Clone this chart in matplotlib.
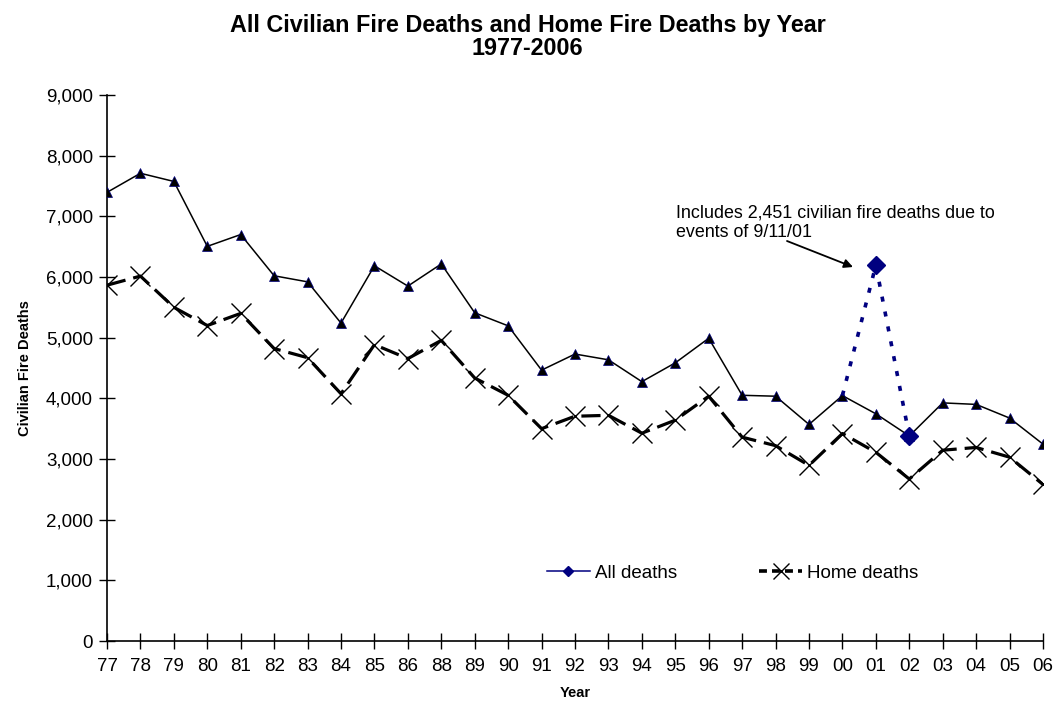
import matplotlib
matplotlib.use("Agg")
import matplotlib.pyplot as plt
from matplotlib.lines import Line2D

plt.rcParams['font.family'] = ['Liberation Sans', 'DejaVu Sans']

years = ["77", "78", "79", "80", "81", "82", "83", "84", "85", "86", "88", "89", "90",
         "91", "92", "93", "94", "95", "96", "97", "98", "99", "00", "01", "02", "03",
         "04", "05", "06"]
all_deaths = [7395, 7710, 7575, 6505, 6700, 6020, 5920, 5240, 6185, 5850, 6215, 5410,
              5195, 4465, 4730, 4635, 4275, 4585, 4990, 4050, 4035, 3570, 4045, 3745,
              3380, 3925, 3900, 3675, 3245]
home_deaths = [5865, 6015, 5500, 5200, 5400, 4820, 4670, 4075, 4885, 4655, 4955, 4335,
               4050, 3500, 3705, 3720, 3425, 3640, 4035, 3360, 3220, 2895, 3420, 3110,
               2670, 3145, 3190, 3030, 2580]
sept11_years = ["00", "01", "02"]
sept11_all = [4045, 6196, 3380]

W, H = 1055, 708
fig = plt.figure(figsize=(W / 100, H / 100), dpi=100)
ax = fig.add_axes([107/W, 1 - 641/H, (1043-107)/W, (641-95)/H])

x = list(range(len(years)))
ax.plot(x, home_deaths, color='black', lw=2.3, ls=(0, (6, 2.5)), marker='x',
        markersize=14, markeredgewidth=1.0, zorder=2)
ax.plot(x, all_deaths, color='black', lw=1.1, marker='^', markersize=7.5,
        markerfacecolor='black', markeredgecolor='#000080', markeredgewidth=0.5, zorder=3)
sx = [years.index(y) for y in sept11_years]
ax.plot(sx, sept11_all, color='#000080', lw=2.6, ls=(0, (1.4, 2.8)), zorder=4)
ax.plot(sx[1:], sept11_all[1:], color='#000080', lw=0, marker='D', markersize=9, zorder=5)

ax.set_xlim(0, len(years) - 1)
ax.set_ylim(0, 9000)
ax.set_xticks(x)
ax.set_xticklabels(years, fontsize=13.5)
ax.set_yticks(range(0, 9001, 1000))
ax.set_yticklabels([f"{v:,}" for v in range(0, 9001, 1000)], fontsize=13.5)
ax.tick_params(direction='inout', length=12, width=1, colors='black', pad=4)
ax.tick_params(axis='x', pad=6)
for s in ['top', 'right']:
    ax.spines[s].set_visible(False)
for s in ['left', 'bottom']:
    ax.spines[s].set_linewidth(1.2)
ax.set_ylabel("Civilian Fire Deaths", fontsize=10.5, fontweight='bold', labelpad=10)
ax.set_xlabel("Year", fontsize=10.5, fontweight='bold', labelpad=8)

fig.suptitle("All Civilian Fire Deaths and Home Fire Deaths by Year\n1977-2006",
             fontsize=16.8, fontweight='bold', y=1 - 14/H, va='top', linespacing=1.0)

fig.text(676/W, 1 - 205/H, "Includes 2,451 civilian fire deaths due to\nevents of 9/11/01",
         fontsize=12.9, ha='left', va='top', linespacing=1.15)
ax.annotate("", xy=(853/W, 1 - 267/H), xycoords='figure fraction',
            xytext=(787/W, 1 - 241/H), textcoords='figure fraction',
            arrowprops=dict(arrowstyle='-|>', color='black', lw=1.3,
                            mutation_scale=13, shrinkA=0, shrinkB=0))

handles = [Line2D([0], [0], color='#000080', lw=1.1, marker='D', markersize=5.5),
           Line2D([0], [0], color='black', lw=2.6, ls=(0, (2.2, 1.4)), marker='x',
                  markersize=11, markeredgewidth=1.0)]
fig.legend(handles, ["All deaths", "Home deaths"], loc='center left',
           bbox_to_anchor=(530/W, 1 - 573/H), ncol=2, frameon=False,
           fontsize=13.5, handlelength=2.3, handletextpad=0.25, columnspacing=4.4)

fig.savefig("out.png", dpi=100)
